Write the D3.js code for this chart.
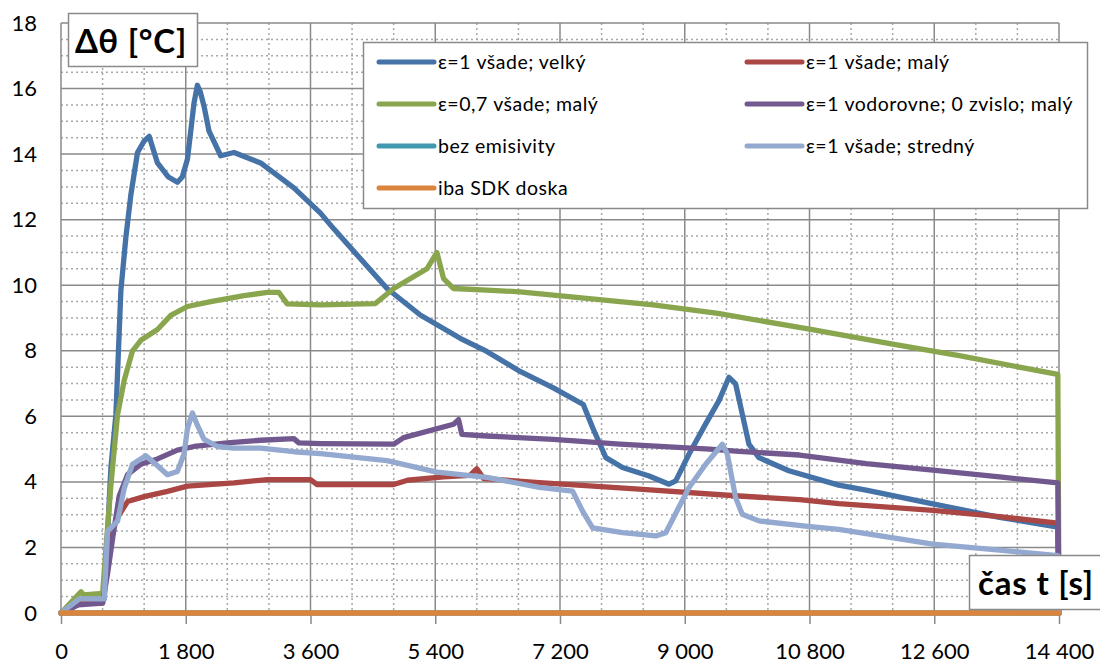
<!DOCTYPE html>
<html>
<head>
<meta charset="utf-8">
<script src="https://cdn.jsdelivr.net/npm/d3@7"></script>
<style>
  html, body { margin: 0; padding: 0; background: #fff; }
  svg { display: block; font-family: Lato, "Open Sans", sans-serif; }
</style>
</head>
<body>
<svg id="chart" width="1100" height="663"></svg>
<script>
// ---------- data (time [s], Δθ [°C]) ----------
const xTicks = [0, 1800, 3600, 5400, 7200, 9000, 10800, 12600, 14400];
const xTickLabels = ["0", "1 800", "3 600", "5 400", "7 200", "9 000", "10 800", "12 600", "14 400"];
const yTicks = [0, 2, 4, 6, 8, 10, 12, 14, 16, 18];
const yTickLabels = ["0", "2", "4", "6", "8", "10", "12", "14", "16", "18"];

const seriesNames = [
  "ε=1 všade; velký",
  "ε=1 všade; malý",
  "ε=0,7 všade; malý",
  "ε=1 vodorovne; 0 zvislo; malý",
  "bez emisivity",
  "ε=1 všade; stredný",
  "iba SDK doska"
];
const seriesColors = ["#4572A7", "#AA4643", "#89A54E", "#71588F", "#4198AF", "#93A9CF", "#DB843D"];

const velky = [[0,0],[264,0.4],[624,0.43],[672,2.4],[700,3.6],[720,4.43],[792,6.05],[864,9.84],[936,11.46],
  [1008,12.76],[1104,14.05],[1200,14.4],[1272,14.54],[1392,13.73],[1550,13.3],[1680,13.14],[1750,13.3],
  [1824,13.84],[1920,15.57],[1968,16.1],[2010,15.9],[2064,15.46],[2136,14.7],[2304,13.95],[2496,14.05],
  [2880,13.73],[3360,12.97],[3744,12.2],[3936,11.72],[4704,9.9],[5184,9.09],[5760,8.38],[6144,7.98],
  [6624,7.37],[7104,6.87],[7536,6.36],[7670,5.66],[7862,4.74],[8102,4.44],[8486,4.18],[8774,3.93],
  [8870,4.03],[9062,4.85],[9302,5.77],[9494,6.48],[9638,7.19],[9734,6.99],[9830,6.07],[9926,5.15],
  [10070,4.74],[10502,4.34],[11222,3.9],[11618,3.75],[12580,3.33],[13542,2.92],[14383,2.62],[14400,0]];

const maly = [[0,0],[288,0.3],[600,0.3],[648,1.5],[720,2.38],[816,2.92],[960,3.4],[1200,3.55],[1536,3.71],
  [1824,3.87],[2496,3.97],[2976,4.07],[3600,4.07],[3696,3.92],[4800,3.92],[5000,4.05],[5520,4.15],
  [5900,4.2],[6000,4.4],[6100,4.1],[6902,3.98],[8342,3.78],[9782,3.57],[10656,3.46],[11222,3.34],
  [12580,3.13],[13542,2.94],[14383,2.74],[14400,0]];

const maly07 = [[0,0],[288,0.65],[330,0.55],[600,0.6],[648,1.95],[720,3.9],[816,6.05],[912,7.1],[1032,8.0],
  [1152,8.32],[1392,8.65],[1584,9.08],[1824,9.35],[2160,9.5],[2640,9.68],[2976,9.78],[3144,9.78],
  [3264,9.43],[3744,9.4],[4536,9.44],[4800,9.9],[5280,10.5],[5424,11.0],[5520,10.2],[5664,9.9],
  [6144,9.85],[6624,9.8],[7584,9.6],[8544,9.4],[9480,9.14],[10800,8.66],[12000,8.2],[12960,7.85],
  [14383,7.28],[14400,0]];

const vodorovne = [[0,0],[250,0.25],[600,0.3],[672,1.2],[744,2.27],[840,3.57],[960,4.22],[1152,4.54],
  [1392,4.7],[1680,4.97],[1920,5.08],[2400,5.19],[2880,5.27],[3360,5.32],[3432,5.19],[3744,5.17],
  [4800,5.15],[4944,5.35],[5664,5.76],[5736,5.9],[5784,5.45],[6144,5.4],[7104,5.3],[8064,5.15],
  [9360,5.0],[9782,4.93],[10656,4.82],[11618,4.56],[12580,4.36],[13542,4.15],[14383,3.97],[14400,0]];

const bezEmisivity = [[0,0],[14400,0]];

const stredny = [[0,0],[264,0.43],[624,0.43],[672,2.49],[816,2.8],[912,3.8],[1032,4.54],[1224,4.8],
  [1392,4.49],[1536,4.22],[1680,4.32],[1776,4.86],[1824,5.62],[1896,6.1],[1968,5.73],[2064,5.3],
  [2256,5.08],[2496,5.03],[2880,5.03],[3360,4.92],[3744,4.86],[4704,4.65],[5424,4.3],[6144,4.14],
  [6902,3.83],[7382,3.72],[7526,3.11],[7670,2.6],[8102,2.45],[8582,2.35],[8726,2.45],[9062,3.83],
  [9302,4.54],[9542,5.15],[9614,4.85],[9734,3.52],[9830,3.01],[10070,2.81],[10742,2.65],[11222,2.55],
  [11618,2.42],[12580,2.1],[13542,1.92],[14383,1.75],[14400,0]];

const sdkDoska = [[0,0],[14400,0]];

const seriesData = [velky, maly, maly07, vodorovne, bezEmisivity, stredny, sdkDoska];

// ---------- layout ----------
const svg = d3.select("#chart");
const L = 61, T = 23, R = 1059, B = 613;
const x = d3.scaleLinear().domain([0, 14400]).range([L, R]);
const y = d3.scaleLinear().domain([0, 18]).range([B, T]);

// minor grid
const g = svg.append("g");
const minorX = d3.range(0, 14401, 600).filter(v => v % 1800 !== 0);
const minorY = d3.range(0, 18.01, 0.5).filter(v => v % 2 !== 0);
g.selectAll(".mx").data(minorX).join("line")
  .attr("x1", d => x(d)).attr("x2", d => x(d)).attr("y1", T).attr("y2", B)
  .attr("stroke", "#a8a8a8").attr("stroke-width", 1.5).attr("stroke-dasharray", "2,3");
g.selectAll(".my").data(minorY).join("line")
  .attr("x1", L).attr("x2", R).attr("y1", d => y(d)).attr("y2", d => y(d))
  .attr("stroke", "#a8a8a8").attr("stroke-width", 1.5).attr("stroke-dasharray", "2,3");
// major grid
g.selectAll(".Mx").data(xTicks).join("line")
  .attr("x1", d => x(d)).attr("x2", d => x(d)).attr("y1", T).attr("y2", B)
  .attr("stroke", "#8a8a8a").attr("stroke-width", 1.5);
g.selectAll(".My").data(yTicks).join("line")
  .attr("x1", L).attr("x2", R).attr("y1", d => y(d)).attr("y2", d => y(d))
  .attr("stroke", "#8a8a8a").attr("stroke-width", 1.5);

// x axis ticks + labels
const xAxis = d3.axisBottom(x).tickValues(xTicks).tickSize(11).tickPadding(19)
  .tickFormat((d, i) => xTickLabels[i]);
const xg = svg.append("g").attr("transform", `translate(0,${B})`).call(xAxis);
xg.select(".domain").remove();
xg.selectAll(".tick line").attr("stroke", "#8a8a8a").attr("stroke-width", 1.5);
xg.selectAll(".tick text").attr("font-size", 22).attr("fill", "#000")
  .attr("font-family", "Lato, sans-serif");

// y axis labels
const yAxis = d3.axisLeft(y).tickValues(yTicks).tickSize(0).tickPadding(24)
  .tickFormat((d, i) => yTickLabels[i]);
const yg = svg.append("g").attr("transform", `translate(${L},0)`).call(yAxis);
yg.select(".domain").remove();
yg.selectAll(".tick text").attr("font-size", 22).attr("fill", "#000")
  .attr("font-family", "Lato, sans-serif");

// series
const line = d3.line().x(d => x(d[0])).y(d => y(d[1]));
svg.append("g").selectAll("path").data(seriesData).join("path")
  .attr("d", d => line(d))
  .attr("fill", "none")
  .attr("stroke", (d, i) => seriesColors[i])
  .attr("stroke-width", 5.3)
  .attr("stroke-linejoin", "round")
  .attr("stroke-linecap", "round");

// legend
const lg = svg.append("g");
lg.append("rect").attr("x", 363.5).attr("y", 42.5).attr("width", 724).attr("height", 166)
  .attr("fill", "#fff").attr("stroke", "#8a8a8a").attr("stroke-width", 1.5);
const colX = [379, 747];
const rowY = [62, 104, 146, 188];
const legendPos = [[0,0],[1,0],[0,1],[1,1],[0,2],[1,2],[0,3]];
seriesNames.forEach((name, i) => {
  const [c, r] = legendPos[i];
  lg.append("line").attr("x1", colX[c]).attr("x2", colX[c] + 55)
    .attr("y1", rowY[r]).attr("y2", rowY[r])
    .attr("stroke", seriesColors[i]).attr("stroke-width", 5).attr("stroke-linecap", "round");
  lg.append("text").attr("x", colX[c] + 59).attr("y", rowY[r]).attr("dy", "0.35em")
    .attr("font-size", 19.5).attr("letter-spacing", 0.5).attr("fill", "#000").text(name);
});

// axis title boxes
function titleBox(bx, by, bw, bh, tx, ty, txt) {
  svg.append("rect").attr("x", bx + 0.5).attr("y", by + 0.5).attr("width", bw).attr("height", bh)
    .attr("fill", "#fff").attr("stroke", "#8a8a8a").attr("stroke-width", 1.5);
  svg.append("text").attr("x", tx).attr("y", ty).attr("font-size", 33).attr("letter-spacing", 0.8)
    .attr("font-weight", "bold").attr("fill", "#000").text(txt);
}
titleBox(68, 13, 129, 53, 75, 53, "Δθ [°C]");
titleBox(969, 555, 140, 54, 978, 595, "čas t [s]");
</script>
</body>
</html>
